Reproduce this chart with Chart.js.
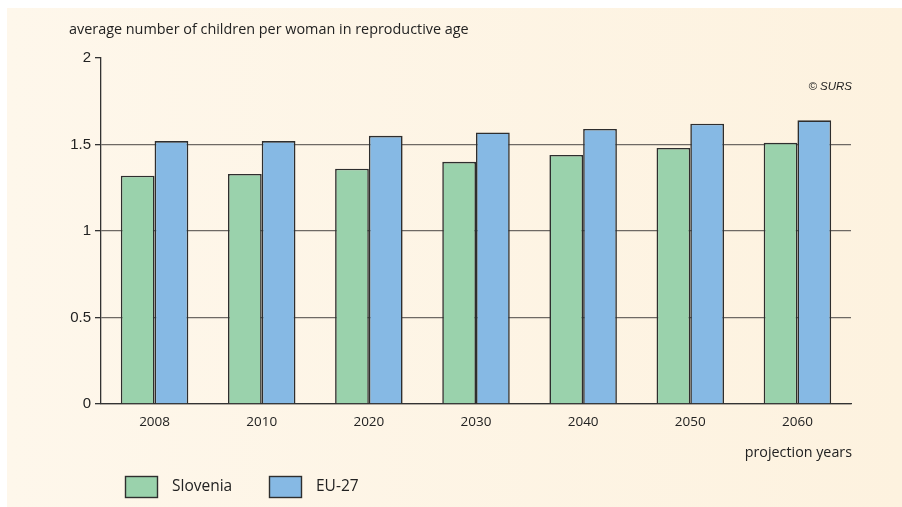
<!DOCTYPE html>
<html>
<head>
<meta charset="utf-8">
<script src="https://cdn.jsdelivr.net/npm/chart.js@4"></script>
<style>
  html, body { margin: 0; padding: 0; background: #ffffff; }
  #fondo {
    position: absolute; left: 7px; top: 8px; right: 0; bottom: 0;
    background: linear-gradient(to right, #fef7eb, #fdf2df);
  }
  #caja { position: absolute; left: 0; top: 0; width: 902px; height: 507px; }
</style>
</head>
<body>
<div id="fondo"></div>
<div id="caja"><canvas id="barras"></canvas></div>
<script>
// datos del gráfico
var categorias = ["2008", "2010", "2020", "2030", "2040", "2050", "2060"];
var slovenia = [1.32, 1.33, 1.36, 1.40, 1.44, 1.48, 1.51];
var eu27 = [1.52, 1.52, 1.55, 1.57, 1.59, 1.62, 1.64];
var ticksY = [0, 0.5, 1, 1.5, 2];

var verde = "#9ad2ac";
var azul = "#86b9e4";
var borde = "#2e2e2e";

// textos sueltos y leyenda dibujados a mano
var textos = {
    id: "textos",
    afterDraw: function (chart) {
        var ctx = chart.ctx;
        var area = chart.chartArea;
        ctx.save();
        ctx.fillStyle = "#222";
        ctx.textBaseline = "middle";

        ctx.font = "14.4px 'Open Sans', sans-serif";
        ctx.textAlign = "left";
        ctx.fillText("average number of children per woman in reproductive age", 69, 30);

        ctx.font = "italic 11.5px 'Liberation Sans', Arial, sans-serif";
        ctx.textAlign = "right";
        ctx.fillText("© SURS", area.right + 1, 87);

        ctx.font = "14.3px 'Open Sans', sans-serif";
        ctx.fillText("projection years", area.right + 1, 453);

        // leyenda
        var x = 125;
        ctx.textAlign = "left";
        ctx.font = "15.5px 'Open Sans', sans-serif";
        chart.data.datasets.forEach(function (ds) {
            ctx.fillStyle = ds.backgroundColor;
            ctx.fillRect(x, 476, 32, 21);
            ctx.strokeStyle = borde;
            ctx.lineWidth = 1.4;
            ctx.strokeRect(x + 0.5, 476.5, 32, 21);
            ctx.fillStyle = "#222";
            ctx.fillText(ds.label, x + 47, 487);
            x += 144;
        });
        ctx.restore();
    }
};

function cargaGrafico() {
    var datos = {
        labels: categorias,
        datasets: [
            { label: "Slovenia", data: slovenia, backgroundColor: verde },
            { label: "EU-27", data: eu27, backgroundColor: azul }
        ]
    };

    var config = {
        type: "bar",
        data: datos,
        options: {
            responsive: true,
            maintainAspectRatio: false,
            animation: false,
            layout: { padding: { top: 58, right: 51, left: 0, bottom: 0 } },
            datasets: {
                bar: {
                    categoryPercentage: 0.63,
                    barPercentage: 1.0,
                    borderColor: borde,
                    borderWidth: 1.6
                }
            },
            plugins: {
                legend: { display: false },
                tooltip: { enabled: false }
            },
            scales: {
                x: {
                    afterFit: function (s) { s.height = 103; },
                    grid: { display: true, drawOnChartArea: false, drawTicks: false },
                    border: { color: "#333", width: 1.3 },
                    ticks: {
                        color: "#222",
                        padding: 10,
                        font: { family: "'Open Sans', sans-serif", size: 13.5 }
                    }
                },
                y: {
                    min: 0,
                    max: 2,
                    afterFit: function (s) { s.width = 101; },
                    afterBuildTicks: function (s) {
                        s.ticks = ticksY.map(function (v) { return { value: v }; });
                    },
                    border: { color: "#333", width: 1.3 },
                    grid: {
                        color: function (c) {
                            return c.tick && c.tick.value === 2 ? "rgba(0,0,0,0)" : "#6e6964";
                        },
                        tickColor: "#333",
                        tickLength: 6,
                        lineWidth: 1.3
                    },
                    ticks: {
                        color: "#222",
                        padding: 4,
                        font: { family: "'Liberation Sans', Arial, sans-serif", size: 15 },
                        callback: function (v) { return String(v); }
                    }
                }
            }
        },
        plugins: [textos]
    };

    new Chart(document.getElementById("barras").getContext("2d"), config);
}

cargaGrafico();
</script>
</body>
</html>
